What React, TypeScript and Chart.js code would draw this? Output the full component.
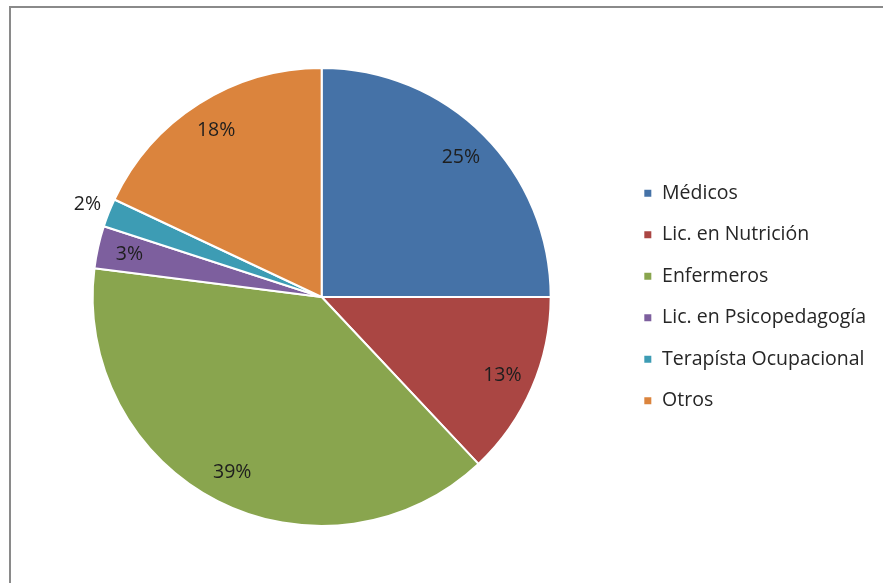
import React, { useEffect, useRef } from "react";
import { Chart, registerables } from "chart.js";

Chart.register(...registerables);

const categories = [
  "Médicos",
  "Lic. en Nutrición",
  "Enfermeros",
  "Lic. en Psicopedagogía",
  "Terapísta Ocupacional",
  "Otros",
];
const percentages = [25, 13, 39, 3, 2, 18];
const sliceColors = ["#4572A7", "#AA4643", "#89A54E", "#7D5F9E", "#3D9CB4", "#DB843D"];

const FONT = "'Open Sans', Lato, sans-serif";

const pctLabels = {
  id: "pctLabels",
  afterDatasetsDraw(chart: any) {
    const meta = chart.getDatasetMeta(0);
    const ctx = chart.ctx;
    ctx.save();
    ctx.font = `19.5px ${FONT}`;
    ctx.fillStyle = "#1e1e1e";
    ctx.textAlign = "center";
    ctx.textBaseline = "middle";
    meta.data.forEach((arc: any, i: number) => {
      const p = arc.getProps(["x", "y", "startAngle", "endAngle", "outerRadius"], true);
      const mid = (p.startAngle + p.endAngle) / 2;
      const outside = percentages[i] < 3;
      const r = p.outerRadius * (outside ? 1.1 : 0.86);
      ctx.fillText(`${percentages[i]}%`, p.x + Math.cos(mid) * r, p.y + Math.sin(mid) * r);
    });
    ctx.restore();
  },
};

export default function App() {
  const ref = useRef<HTMLCanvasElement | null>(null);
  useEffect(() => {
    if (!ref.current) return;
    const chart = new Chart(ref.current, {
      type: "pie",
      data: {
        labels: categories,
        datasets: [
          {
            data: percentages,
            backgroundColor: sliceColors,
            borderColor: "#ffffff",
            borderWidth: 2,
          },
        ],
      },
      options: {
        animation: false,
        responsive: false,
        layout: { padding: { top: 67, bottom: 56, left: 22, right: 7 } },
        plugins: {
          tooltip: { enabled: false },
          legend: {
            position: "right",
            labels: {
              boxWidth: 9,
              boxHeight: 9,
              padding: 22,
              color: "#262626",
              font: { family: FONT, size: 19.5 },
            },
          },
        },
      },
      plugins: [pctLabels],
    });
    return () => chart.destroy();
  }, []);
  return (
    <div style={{ position: "absolute", left: 0, top: 0, width: 883, height: 583, background: "#fff" }}>
      <div
        style={{
          position: "absolute",
          left: 9,
          top: 6,
          right: 0,
          bottom: 0,
          borderTop: "2px solid #8a8a8a",
          borderLeft: "2px solid #8a8a8a",
        }}
      />
      <canvas ref={ref} width={883} height={583} style={{ position: "absolute", left: 0, top: 0 }} />
    </div>
  );
}
